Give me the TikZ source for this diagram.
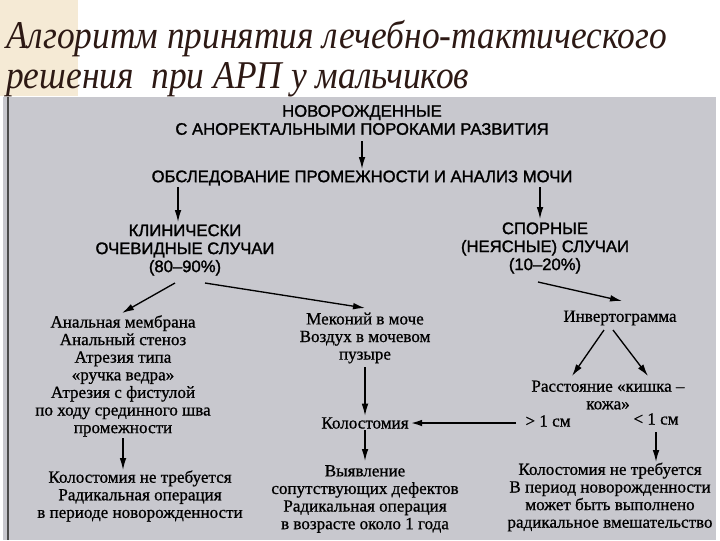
\documentclass[tikz,border=0pt]{standalone}
\usepackage{fontspec}
\usetikzlibrary{arrows.meta}
\setmainfont{Liberation Serif}
\newfontfamily\hd[FakeBold=1.5]{Liberation Sans}
\newfontfamily\bd[FakeBold=0.8]{Liberation Serif}
\newfontfamily\ttl[FakeStretch=0.9]{Liberation Serif}
\definecolor{panel}{RGB}{200,200,206}
\definecolor{ttlc}{RGB}{45,25,20}
\begin{document}
\begin{tikzpicture}[x=0.75pt,y=-0.75pt,
  hdr/.style={font=\hd\fontsize{12.5}{13.5}\selectfont,align=center,inner sep=1pt},
  bt/.style={font=\bd\fontsize{12.8}{13.2}\selectfont,align=center,inner sep=1pt},
  arr/.style={-{Latex[length=9pt,width=5pt]},line width=1pt}]
\useasboundingbox (0,0) rectangle (720,540);
\fill[white] (0,0) rectangle (720,540);
\fill[yellow!15!brown!20] (0,0) rectangle (78,96);
\fill[panel] (3,97) rectangle (716,540);
\draw[black!70,line width=1.2pt] (8,97) -- (8,540);
\node[anchor=base west,font=\ttl\itshape\fontsize{29.5}{30}\selectfont,text=ttlc,inner sep=0] (t1) at (6,48) {Алгоритм принятия лечебно-тактического};
\node[anchor=base west,font=\ttl\itshape\fontsize{29.5}{30}\selectfont,text=ttlc,inner sep=0] (t2) at (6,88) {решения \ при АРП у мальчиков};

\node[hdr] (n1) at (362,120) {НОВОРОЖДЕННЫЕ\\С АНОРЕКТАЛЬНЫМИ ПОРОКАМИ РАЗВИТИЯ};
\node[hdr] (n2) at (362,178) {ОБСЛЕДОВАНИЕ ПРОМЕЖНОСТИ И АНАЛИЗ МОЧИ};
\node[hdr] (l1) at (185,250) {КЛИНИЧЕСКИ\\ОЧЕВИДНЫЕ СЛУЧАИ\\(80–90\%)};
\node[hdr] (r1) at (545,248) {СПОРНЫЕ\\(НЕЯСНЫЕ) СЛУЧАИ\\(10–20\%)};
\node[bt] (c1) at (123,376) {Анальная мембрана\\Анальный стеноз\\Атрезия типа\\«ручка ведра»\\Атрезия с фистулой\\по ходу срединного шва\\промежности};
\node[bt] (c2) at (365,338) {Меконий в моче\\Воздух в мочевом\\пузыре};
\node[bt] (inv) at (620,318) {Инвертограмма};
\node[bt] (ras) at (608,395) {Расстояние «кишка –\\кожа»};
\node[bt] (g1) at (548,421) {> 1 см};
\node[bt] (g2) at (656,419) {< 1 см};
\node[bt] (kol) at (365,423) {Колостомия};
\node[bt] (b1) at (140,496) {Колостомия не требуется\\Радикальная операция\\в периоде новорожденности};
\node[bt] (b2) at (365,499) {Выявление\\сопутствующих дефектов\\Радикальная операция\\в возрасте около 1 года};
\node[bt] (b3) at (610,497) {Колостомия не требуется\\В период новорожденности\\может быть выполнено\\радикальное вмешательство};

\draw[arr] (362,141) -- (362,169);
\draw[arr] (178,187) -- (178,222);
\draw[arr] (540,187) -- (540,219);
\draw[arr] (175,283) -- (122,313);
\draw[arr] (205,283) -- (365,308);
\draw[arr] (538,282) -- (622,301);
\draw[arr] (604,330) -- (572,376);
\draw[arr] (613,330) -- (648,376);
\draw[arr] (365,367) -- (kol.north);
\draw[arr,line width=1.6pt] (516,423) -- (kol.east);
\draw[arr] (kol.south) -- (365,461);
\draw[arr] (123,438) -- (123,470);
\draw[arr] (656,432) -- (656,462);
\end{tikzpicture}
\end{document}
